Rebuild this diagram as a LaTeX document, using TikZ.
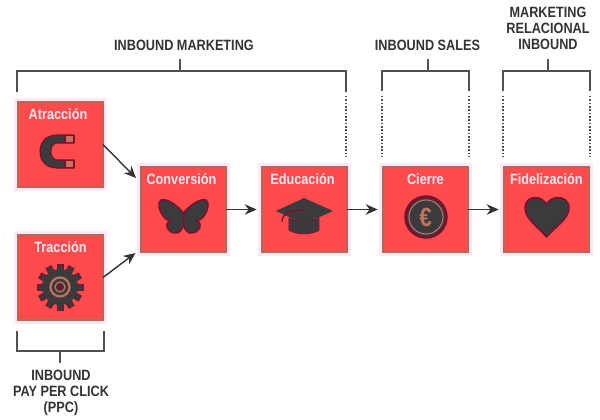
\documentclass[tikz,border=0pt]{standalone}
\usepackage{fontspec}
\setmainfont[FakeStretch=0.85]{Liberation Sans}
\usetikzlibrary{arrows.meta}
\definecolor{boxred}{HTML}{FF4B4C}
\definecolor{boxedge}{HTML}{B5694F}
\definecolor{boxhalo}{HTML}{FDE8FC}
\definecolor{titlepink}{HTML}{FFE8F2}
\definecolor{icondark}{HTML}{3B3A3D}
\definecolor{iconred}{HTML}{7D0E30}
\definecolor{iconbrown}{HTML}{C4745C}
\definecolor{inkgray}{HTML}{333333}
\definecolor{linegray}{HTML}{505050}

\begin{document}
\begin{tikzpicture}[x=0.02cm,y=-0.02cm,>={Stealth[length=2.4mm,width=2.1mm]},shorten >=3pt,auto,node distance=2.42cm,
    stage node/.style={rectangle,minimum size=1.7cm,inner sep=0pt,outer sep=0pt,fill=boxred,draw=boxedge,line width=0.9pt,preaction={draw=boxhalo,line width=4.4pt}},
    stage title/.style={inner sep=0pt,text=titlepink,font=\bfseries\fontsize{8.5}{9}\selectfont},
    group label/.style={inner sep=0pt,align=center,text=inkgray,font=\bfseries\fontsize{8.5}{9.07}\selectfont},
    flow line/.style={->,draw=inkgray,line width=0.8pt},
    bracket line/.style={draw=linegray,line width=0.95pt,shorten >=0pt},
    dotted leg/.style={draw=linegray,line width=0.85pt,shorten >=0pt,dash pattern=on 0.85pt off 1.05pt},
    icon dark/.style={fill=icondark,draw=iconred,line width=0.8pt}]

    \useasboundingbox (0,0) rectangle (600,420);

    \node[stage node] (atraccion) at (60.5,144.5) {};
    \node[stage node] (traccion) [below of = atraccion, yshift=-0.24cm] {};
    \node[stage node] (conversion) [right of = atraccion, xshift=0.04cm, yshift=-1.3cm] {};
    \node[stage node] (educacion) [right of = conversion] {};
    \node[stage node] (cierre) [right of = educacion] {};
    \node[stage node] (fidelizacion) [right of = cierre] {};

    \node[stage title] (t1) [below of = atraccion, node distance=-0.6cm, xshift=-0.05cm] {Atracción};
    \node[stage title] (t2) [below of = traccion, node distance=-0.6cm] {Tracción};
    \node[stage title] (t3) [below of = conversion, node distance=-0.6cm, xshift=-0.04cm] {Conversión};
    \node[stage title] (t4) [below of = educacion, node distance=-0.6cm, xshift=-0.04cm] {Educación};
    \node[stage title] (t5) [below of = cierre, node distance=-0.6cm] {Cierre};
    \node[stage title] (t6) [below of = fidelizacion, node distance=-0.6cm] {Fidelización};

    \node[group label] (marketing) at (184,45) {INBOUND MARKETING};
    \node[group label] (sales) at (427.5,45) {INBOUND SALES};
    \node[group label] (relacional) at (548,28) {MARKETING\\RELACIONAL\\INBOUND};
    \node[group label] (ppc) at (61,393) {INBOUND\\PAY PER CLICK\\(PPC)};

    \coordinate (m0) at (180,59);
    \coordinate (m1) at (180,71);
    \coordinate (ml) at (17,71);
    \coordinate (mr) at (346,71);
    \coordinate (s0) at (428,59);
    \coordinate (s1) at (428,71);
    \coordinate (sl) at (382,71);
    \coordinate (sr) at (469,71);
    \coordinate (r0) at (548,59);
    \coordinate (r1) at (548,71);
    \coordinate (rl) at (503,71);
    \coordinate (rr) at (590,71);
    \coordinate (p0) at (60,363);
    \coordinate (p1) at (60,351);
    \coordinate (pl) at (17,351);
    \coordinate (pr) at (104,351);
    \coordinate (c1) at (136,178);
    \coordinate (c2) at (135.5,253);

    \draw[bracket line] (m0) -- (m1) (ml |- 0,92) -- (ml) -- (mr) -- (mr |- 0,92);
    \draw[bracket line] (s0) -- (s1) (sl |- 0,91) -- (sl) -- (sr) -- (sr |- 0,91);
    \draw[bracket line] (r0) -- (r1) (rl |- 0,91) -- (rl) -- (rr) -- (rr |- 0,91);
    \draw[bracket line] (p0) -- (p1) (pl |- 0,331) -- (pl) -- (pr) -- (pr |- 0,331);

    \draw[dotted leg] (mr |- 0,96) -- (mr |- 0,157);
    \draw[dotted leg] (sl |- 0,96) -- (sl |- 0,157);
    \draw[dotted leg] (sr |- 0,96) -- (sr |- 0,157);
    \draw[dotted leg] (rl |- 0,96) -- (rl |- 0,157);
    \draw[dotted leg] (rr |- 0,96) -- (rr |- 0,157);

    \draw[flow line,shorten >=0pt] (atraccion.east) -- (c1);
    \draw[flow line,shorten >=0pt] (traccion.east) -- (c2);
    \draw[flow line] (conversion.east) -- (educacion.west);
    \draw[flow line] (educacion.east) -- (cierre.west);
    \draw[flow line] (cierre.east) -- (fidelizacion.west);

    \path[fill=icondark,draw=iconred,line width=0.6pt] (74,135) -- (57,135) .. controls (46,135) and (40,142) .. (40,151.5) .. controls (40,161) and (46,168) .. (57,168) -- (74,168) -- (74,160) -- (57,160) .. controls (53,160) and (51,156) .. (51,151.5) .. controls (51,147) and (53,143) .. (57,143) -- (74,143) -- cycle;
    \path[fill=iconbrown,draw=iconred,line width=0.6pt] (65,135.5) rectangle (74,142.5);
    \path[fill=iconbrown,draw=iconred,line width=0.6pt] (65,160.5) rectangle (74,167.5);

    \foreach \t in {0,30,...,330}
        \path[fill=icondark,draw=iconred,line width=0.4pt,rotate around={\t:(60,287)}] (57,264) rectangle (63,272);
    \path[fill=icondark] (60,287) circle (18);
    \path[draw=iconbrown,line width=1.2pt] (60,287) circle (9.5);
    \path[draw=iconbrown,line width=0.7pt] (60,287) circle (5);
    \path[fill=iconred] (60,287) circle (2.6);

    \foreach \s in {1,-1}
        \path[icon dark,xshift=183.5*0.02cm,xscale=\s,xshift=-183.5*0.02cm] (183.5,213) .. controls (190,205) and (200,198) .. (206,200) .. controls (210,202) and (208,211) .. (204,216) .. controls (202,219) and (200,220) .. (197,221) .. controls (204,224) and (199,233) .. (192,233) .. controls (188,234) and (185,230) .. (183.5,225) -- cycle;

    \path[icon dark,line width=0.5pt] (289,218) -- (304,224) -- (319,218) -- (319,230) .. controls (312,235) and (296,235) .. (289,230) -- cycle;
    \path[fill=icondark] (276,211) -- (304,198) -- (333,211) -- (304,224) -- cycle;
    \path[draw=iconred,line width=0.8pt] (304,210) .. controls (292,209) and (282,213) .. (282,227);

    \path[fill=icondark,draw=iconred,line width=1.4pt] (426,217) circle (20.5);
    \path[draw=iconbrown,line width=0.6pt] (426,217) circle (17);
    \node[inner sep=0pt,text=iconbrown,font=\bfseries\fontsize{15}{15}\selectfont] (euro) at (425.5,217) {€};

    \path[fill=icondark,draw=iconred,line width=0.8pt] (546.5,237) .. controls (538,227) and (525,219) .. (525,208) .. controls (525,200) and (531,197.5) .. (535,197.5) .. controls (540,197.5) and (544,200) .. (546.5,204) .. controls (549,200) and (553,197.5) .. (558,197.5) .. controls (563,197.5) and (569,200) .. (569,208) .. controls (569,219) and (555,227) .. (546.5,237) -- cycle;
\end{tikzpicture}
\end{document}
